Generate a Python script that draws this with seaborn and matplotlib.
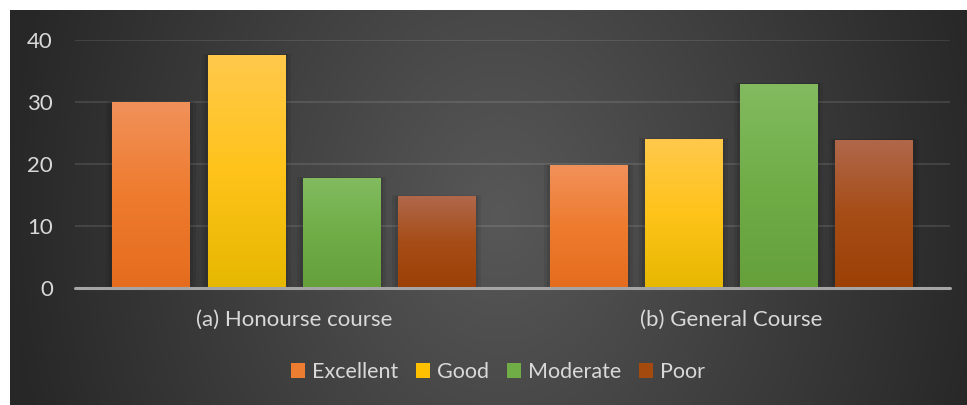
import numpy as np
import pandas as pd
import matplotlib
matplotlib.use("Agg")
import matplotlib.pyplot as plt
from matplotlib.colors import LinearSegmentedColormap
from matplotlib.patches import Patch
import seaborn as sns

# ---- data ----
courses = ["(a) Honourse course", "(b) General Course"]
ratings = ["Excellent", "Good", "Moderate", "Poor"]
honours = [30.0, 37.6, 17.7, 14.8]
general = [19.8, 24.0, 32.9, 23.9]
yticks = [0, 10, 20, 30, 40]

base_colors = ["#ED7D31", "#FFC000", "#70AD47", "#A44A0F"]
grad_stops = [
    ("#E56C1E", "#EE7B2E", "#F1915A"),
    ("#E6B800", "#FFC31A", "#FFC94C"),
    ("#65A03B", "#70AD47", "#82BB60"),
    ("#9C4005", "#A64D17", "#B0684B"),
]

df = pd.DataFrame({
    "course": [c for c in courses for _ in ratings],
    "rating": ratings * len(courses),
    "value": honours + general,
})

sns.set_theme(style="dark")
plt.rcParams["font.family"] = ["Lato", "DejaVu Sans"]

W, H = 967, 405
fig = plt.figure(figsize=(W / 100, H / 100), dpi=100, facecolor="white")

# background radial gradient panel
bg = fig.add_axes([10 / W, 0, (W - 10) / W, (H - 10) / H])
bg.set_axis_off()
nx, ny = 480, 200
xs = np.linspace(10, W, nx)
ys = np.linspace(10, H, ny)
X, Y = np.meshgrid(xs, ys)
cx, cy = 500, 215
d = np.sqrt(((X - cx) / 520.0) ** 2 + ((Y - cy) / 650.0) ** 2)
val = np.clip(0x58 - 0x33 * d, 0x27, 0x60) / 255.0
img = np.dstack([val, val, val])
bg.imshow(img, extent=[0, 1, 0, 1], aspect="auto", origin="upper")
bg.set_xlim(0, 1)
bg.set_ylim(0, 1)

# main axes
left, right = 75, 950
top, bottom = 40, 288
ax = fig.add_axes([left / W, (H - bottom) / H, (right - left) / W, (bottom - top) / H])
ax.patch.set_alpha(0)

sns.barplot(data=df, x="course", y="value", hue="rating", hue_order=ratings,
            palette=base_colors, width=0.87, gap=0.19, saturation=1,
            edgecolor="none", linewidth=0, legend=False, ax=ax, zorder=3)

# gradients + soft shadows on bars
for i, cont in enumerate(ax.containers):
    cmap = LinearSegmentedColormap.from_list("g%d" % i, list(grad_stops[i]))
    grad = np.linspace(0, 1, 256).reshape(-1, 1)
    for bar in cont:
        x0, y0 = bar.get_x(), bar.get_y()
        w, h = bar.get_width(), bar.get_height()
        im = ax.imshow(grad, cmap=cmap, extent=[x0, x0 + w, y0, y0 + h],
                       aspect="auto", origin="lower", zorder=3.5)
        im.set_clip_path(bar)
        for k, a in [(0.014, 0.07), (0.007, 0.09)]:
            sh = plt.Rectangle((x0 - k, y0), w + 2 * k, h + k * 12,
                               facecolor="black", alpha=a, edgecolor="none", zorder=2.5)
            ax.add_patch(sh)

ax.set_xlim(-0.5, 1.5)
ax.set_ylim(0, 40)
ax.set_yticks(yticks)
ax.grid(axis="y", color="white", alpha=0.11, linewidth=1.4, zorder=1)
ax.grid(axis="x", visible=False)
ax.axhline(0, color="#A5A5A5", linewidth=2.2, zorder=5, clip_on=False)
for s in ax.spines.values():
    s.set_visible(False)
ax.set_xlabel("")
ax.set_ylabel("")
ax.tick_params(axis="y", length=0, pad=16, labelsize=16, labelcolor="#D9D9D9")
ax.tick_params(axis="x", length=0, pad=16, labelsize=16, labelcolor="#D9D9D9")

handles = [Patch(facecolor=c, edgecolor="none") for c in base_colors]
fig.legend(handles, ratings, loc="center", bbox_to_anchor=(498 / W, (H - 372) / H),
           ncol=4, frameon=False, fontsize=15.5, labelcolor="#D9D9D9",
           handlelength=0.65, handleheight=0.65, handletextpad=0.3,
           columnspacing=0.85)

fig.savefig("out.png", dpi=100, facecolor="white")
